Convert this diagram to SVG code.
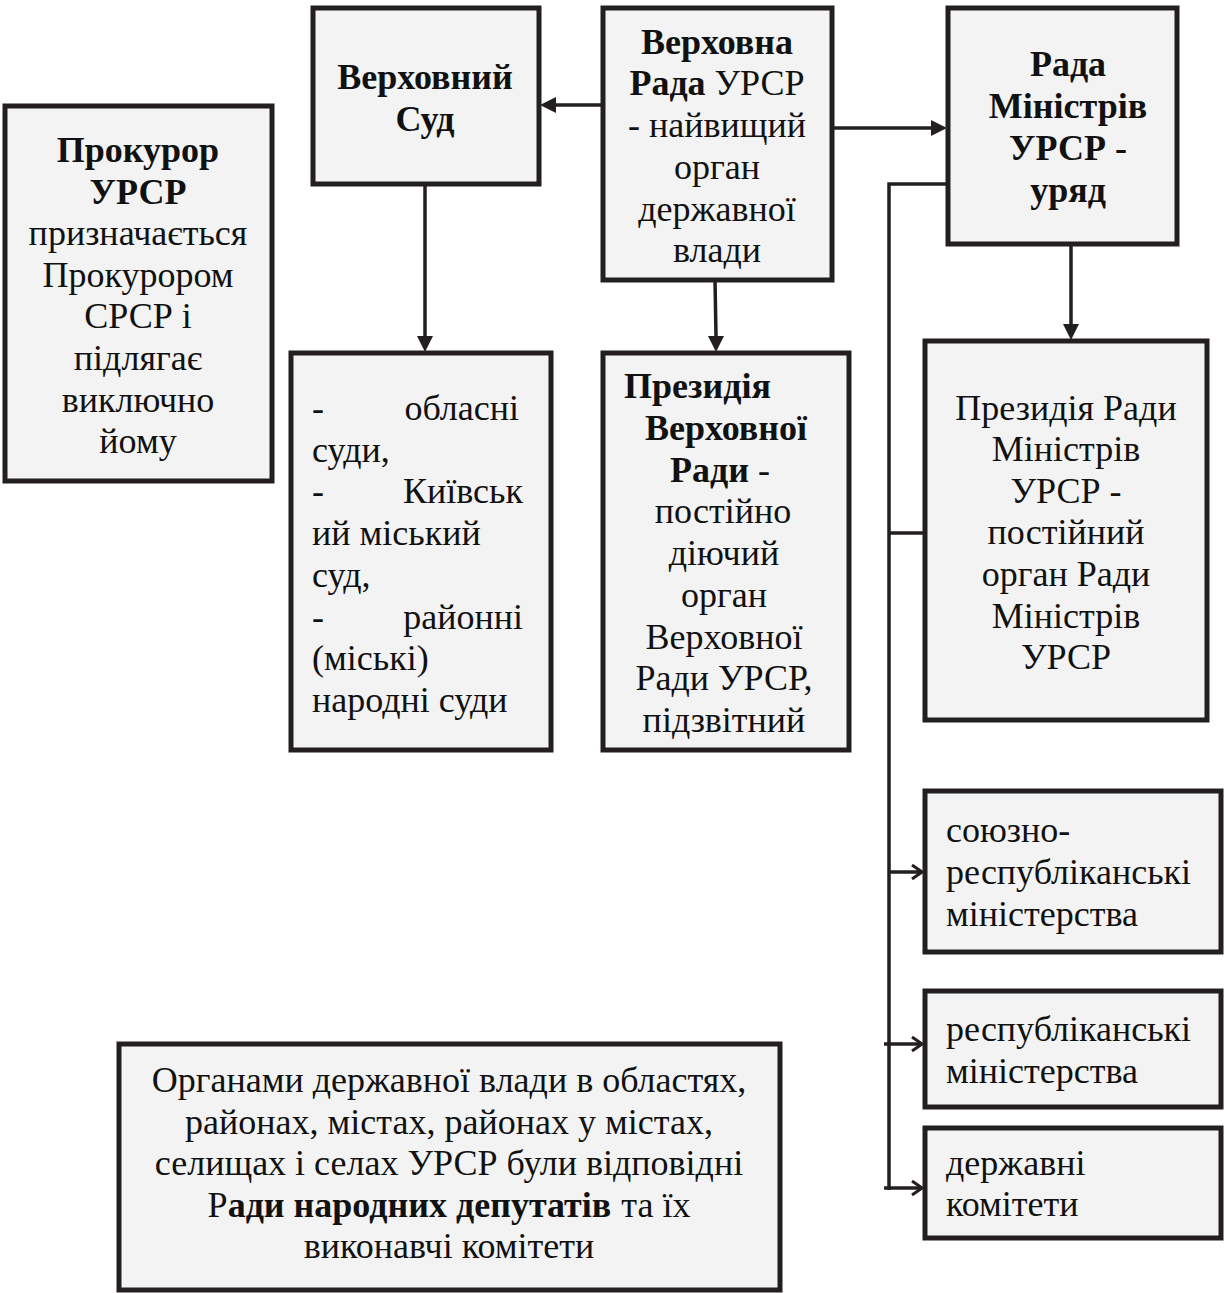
<svg xmlns="http://www.w3.org/2000/svg" width="1224" height="1293" viewBox="0 0 1224 1293">
<style>
.box{fill:#f2f3f2;stroke:#231f20;stroke-width:5}
text{font-family:"Liberation Serif","Times New Roman",serif;font-size:36px;fill:#111}
.c{text-anchor:middle}
.b{font-weight:bold}
.ln{stroke:#231f20;stroke-width:3.5;fill:none}
</style>
<defs>
<marker id="chev" viewBox="0 0 12 16" refX="11" refY="8" markerWidth="12" markerHeight="16" markerUnits="userSpaceOnUse" orient="auto">
<path d="M1,1 L11,8 L1,15" fill="none" stroke="#231f20" stroke-width="3"/>
</marker>
</defs>

<g id="connectors">
<line class="ln" x1="602" y1="105" x2="556" y2="105"/>
<path d="M556,97 L540,105 L556,113 z" fill="#231f20"/>
<line class="ln" x1="832" y1="128" x2="931" y2="128"/>
<path d="M931,120 L947,128 L931,136 z" fill="#231f20"/>
<line class="ln" x1="425" y1="184" x2="425" y2="336"/>
<path d="M417,336 L425,352 L433,336 z" fill="#231f20"/>
<line class="ln" x1="715" y1="280" x2="716" y2="336"/>
<path d="M708,336 L716,352 L724,336 z" fill="#231f20"/>
<line class="ln" x1="1071" y1="244" x2="1071" y2="324"/>
<path d="M1063,324 L1071,340 L1079,324 z" fill="#231f20"/>
<polyline class="ln" points="947,184 889,184 889,1190"/>
<line class="ln" x1="889" y1="533" x2="924" y2="533"/>
<line class="ln" x1="889" y1="872" x2="922" y2="872" marker-end="url(#chev)"/>
<line class="ln" x1="884" y1="1044" x2="922" y2="1044" marker-end="url(#chev)"/>
<line class="ln" x1="884" y1="1188" x2="922" y2="1188" marker-end="url(#chev)"/>
</g>

<g id="prokuror">
<rect class="box" x="5" y="106" width="267" height="375"/>
<text class="c" x="138"><tspan class="b" x="138" y="162">Прокурор</tspan><tspan class="b" x="138" y="204">УРСР</tspan><tspan x="138" y="245">призначається</tspan><tspan x="138" y="287">Прокурором</tspan><tspan x="138" y="328">СРСР і</tspan><tspan x="138" y="370">підлягає</tspan><tspan x="138" y="412">виключно</tspan><tspan x="138" y="453">йому</tspan></text>
</g>

<g id="verkhovnyi-sud">
<rect class="box" x="313" y="8" width="226" height="176"/>
<text class="c b" x="425"><tspan x="425" y="89">Верховний</tspan><tspan x="425" y="131">Суд</tspan></text>
</g>

<g id="verkhovna-rada">
<rect class="box" x="603" y="8" width="229" height="272"/>
<text class="c" x="717"><tspan class="b" x="717" y="54">Верховна</tspan><tspan x="717" y="95"><tspan class="b">Рада</tspan> УРСР</tspan><tspan x="717" y="137">- найвищий</tspan><tspan x="717" y="179">орган</tspan><tspan x="717" y="221">державної</tspan><tspan x="717" y="262">влади</tspan></text>
</g>

<g id="rada-ministriv">
<rect class="box" x="948" y="8" width="229" height="236"/>
<text class="c b" x="1068"><tspan x="1068" y="76">Рада</tspan><tspan x="1068" y="118">Міністрів</tspan><tspan x="1068" y="160">УРСР -</tspan><tspan x="1068" y="202">уряд</tspan></text>
</g>

<g id="sudy">
<rect class="box" x="291" y="353" width="260" height="397"/>
<text><tspan x="312" y="420">-</tspan><tspan x="519" y="420" text-anchor="end">обласні</tspan><tspan x="312" y="462">суди,</tspan><tspan x="312" y="503">-</tspan><tspan x="523" y="503" text-anchor="end">Київськ</tspan><tspan x="312" y="545">ий міський</tspan><tspan x="312" y="587">суд,</tspan><tspan x="312" y="629">-</tspan><tspan x="523" y="629" text-anchor="end">районні</tspan><tspan x="312" y="670">(міські)</tspan><tspan x="312" y="712">народні суди</tspan></text>
</g>

<g id="prezydiia-vr">
<rect class="box" x="603" y="353" width="246" height="397"/>
<text class="c"><tspan class="b" x="624" y="398" text-anchor="start">Президія</tspan><tspan class="b" x="726" y="440">Верховної</tspan><tspan x="720" y="482"><tspan class="b">Ради</tspan> -</tspan><tspan x="723" y="523">постійно</tspan><tspan x="724" y="565">діючий</tspan><tspan x="724" y="607">орган</tspan><tspan x="724" y="649">Верховної</tspan><tspan x="724" y="690">Ради УРСР,</tspan><tspan x="724" y="732">підзвітний</tspan></text>
</g>

<g id="prezydiia-rm">
<rect class="box" x="925" y="341" width="282" height="379"/>
<text class="c"><tspan x="1066" y="420">Президія Ради</tspan><tspan x="1066" y="461">Міністрів</tspan><tspan x="1066" y="503">УРСР -</tspan><tspan x="1066" y="544">постійний</tspan><tspan x="1066" y="586">орган Ради</tspan><tspan x="1066" y="628">Міністрів</tspan><tspan x="1066" y="669">УРСР</tspan></text>
</g>

<g id="soiuzno-resp">
<rect class="box" x="925" y="791" width="296" height="161"/>
<text><tspan x="946" y="842">союзно-</tspan><tspan x="946" y="884">республіканські</tspan><tspan x="946" y="926">міністерства</tspan></text>
</g>

<g id="resp">
<rect class="box" x="925" y="991" width="296" height="116"/>
<text><tspan x="946" y="1041">республіканські</tspan><tspan x="946" y="1083">міністерства</tspan></text>
</g>

<g id="derzh-komitety">
<rect class="box" x="925" y="1128" width="296" height="110"/>
<text><tspan x="946" y="1175">державні</tspan><tspan x="946" y="1216">комітети</tspan></text>
</g>

<g id="mistsevi">
<rect class="box" x="119" y="1044" width="661" height="246"/>
<text class="c"><tspan x="449" y="1092">Органами державної влади в областях,</tspan><tspan x="449" y="1134">районах, містах, районах у містах,</tspan><tspan x="449" y="1175">селищах і селах УРСР були відповідні</tspan><tspan x="449" y="1217">Р<tspan class="b">ади народних депутатів</tspan><tspan dx="10">та їх</tspan></tspan><tspan x="449" y="1258">виконавчі комітети</tspan></text>
</g>
</svg>
